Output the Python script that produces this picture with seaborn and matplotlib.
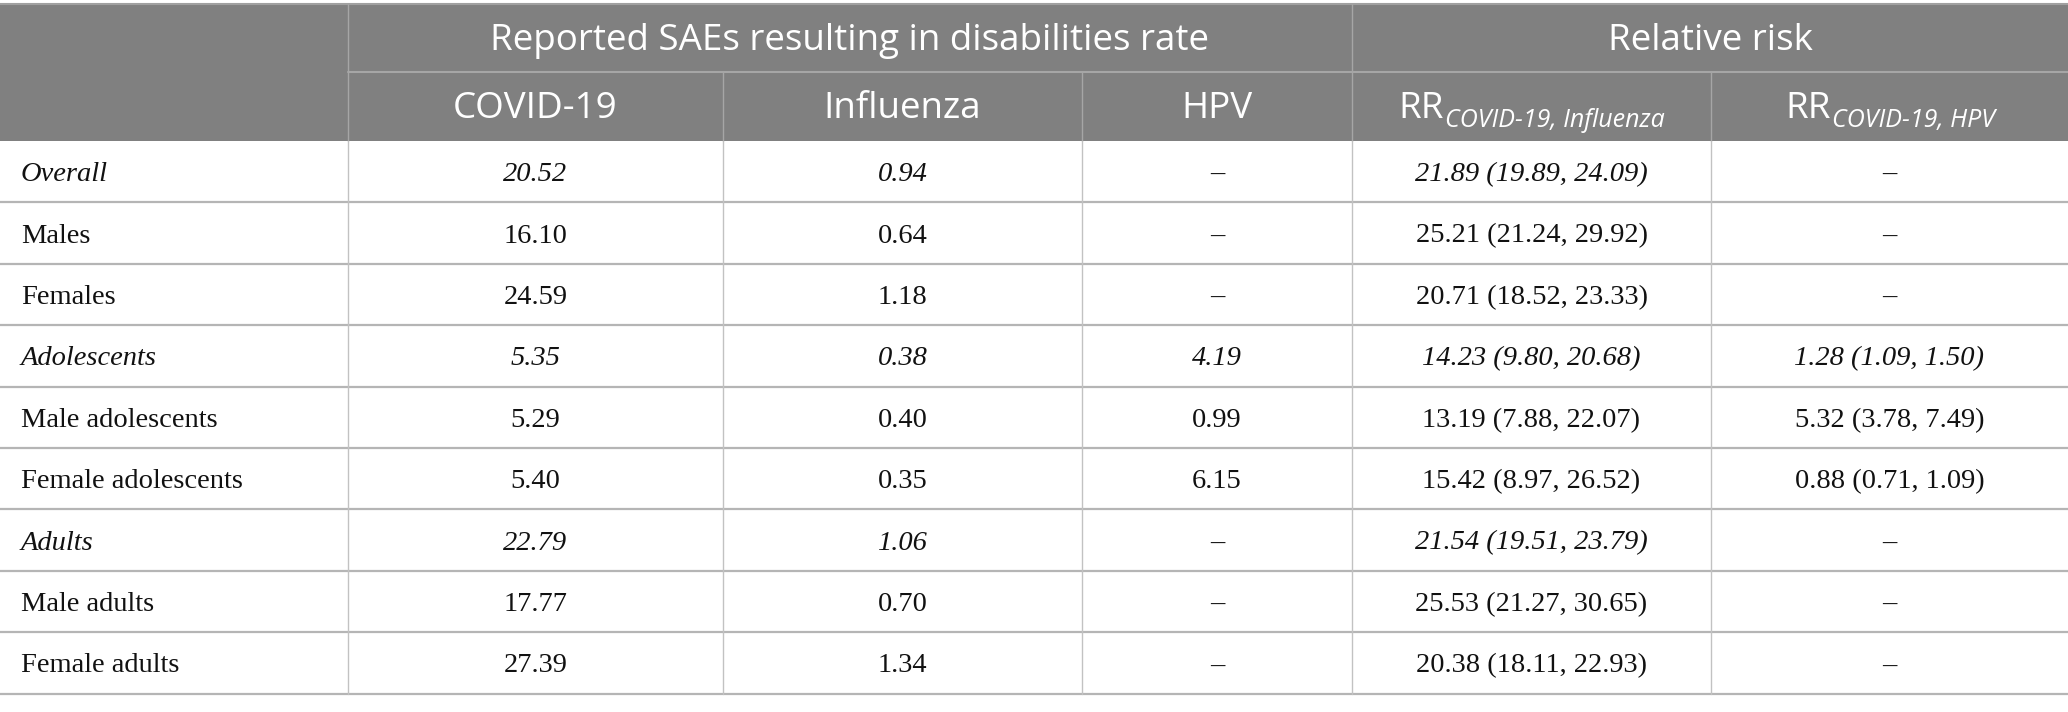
import matplotlib
matplotlib.use("Agg")
import matplotlib.pyplot as plt
from matplotlib.patches import Rectangle
import seaborn as sns

# table content
groups = ["Overall", "Males", "Females", "Adolescents", "Male adolescents",
          "Female adolescents", "Adults", "Male adults", "Female adults"]
italic_groups = ["Overall", "Adolescents", "Adults"]
covid_rate = [20.52, 16.10, 24.59, 5.35, 5.29, 5.40, 22.79, 17.77, 27.39]
flu_rate = [0.94, 0.64, 1.18, 0.38, 0.40, 0.35, 1.06, 0.70, 1.34]
hpv_rate = [None, None, None, 4.19, 0.99, 6.15, None, None, None]
rr_flu = [(21.89, 19.89, 24.09), (25.21, 21.24, 29.92), (20.71, 18.52, 23.33),
          (14.23, 9.80, 20.68), (13.19, 7.88, 22.07), (15.42, 8.97, 26.52),
          (21.54, 19.51, 23.79), (25.53, 21.27, 30.65), (20.38, 18.11, 22.93)]
rr_hpv = [None, None, None, (1.28, 1.09, 1.50), (5.32, 3.78, 7.49),
          (0.88, 0.71, 1.09), None, None, None]
group_headers = ["Reported SAEs resulting in disabilities rate", "Relative risk"]
col_headers = ["COVID-19", "Influenza", "HPV", ("RR", "COVID-19, Influenza"), ("RR", "COVID-19, HPV")]

sns.set_theme(style="white")
plt.rcParams["font.family"] = ["Open Sans", "DejaVu Sans"]

# layout in pixels
W, H = 2068, 712
col_x = [0, 348, 723, 1082, 1352, 1711, 2068]
head_top, head_mid, head_bot = 4, 72, 141
row_h = 61.4
HEAD_BG = "#808080"
LINE = "#c2c2c2"


def fmt(v):
    return "\u2013" if v is None else f"{v:.2f}"


def fmt_rr(t):
    return "\u2013" if t is None else f"{t[0]:.2f} ({t[1]:.2f}, {t[2]:.2f})"


fig = plt.figure(figsize=(W / 100, H / 100), dpi=100)
ax = fig.add_axes([0, 0, 1, 1])
ax.set_xlim(0, W)
ax.set_ylim(H, 0)
ax.axis("off")

# header background
ax.add_patch(Rectangle((0, head_top), W, head_bot - head_top, color=HEAD_BG, lw=0))
ax.plot([0, W], [head_top, head_top], color="#a0a0a0", lw=1.5)
ax.plot([col_x[1], W], [head_mid, head_mid], color="#a6a6a6", lw=1.5)
for i, x in enumerate(col_x[1:-1], start=1):
    y0 = head_top if i in (1, 4) else head_mid
    ax.plot([x, x], [y0, head_bot], color="#a6a6a6", lw=1)

# header text
hfs = 26.5
hw = "normal"
ax.text((col_x[1] + col_x[4]) / 2, (head_top + head_mid) / 2 + 3, group_headers[0],
        color="white", fontsize=hfs, ha="center", va="center", fontweight=hw)
ax.text((col_x[4] + col_x[6]) / 2, (head_top + head_mid) / 2 + 3, group_headers[1],
        color="white", fontsize=hfs, ha="center", va="center", fontweight=hw)

renderer = fig.canvas.get_renderer()
yc2 = (head_mid + head_bot) / 2 + 3
for j, h in enumerate(col_headers):
    cx = (col_x[j + 1] + col_x[j + 2]) / 2
    if isinstance(h, str):
        ax.text(cx, yc2, h, color="white", fontsize=hfs, ha="center", va="center",
                fontweight=hw)
    else:
        t1 = ax.text(0, yc2, h[0], color="white", fontsize=hfs, ha="left", va="center",
                     fontweight=hw)
        t2 = ax.text(0, yc2 + 11, h[1], color="white", fontsize=hfs * 0.68,
                     style="italic", ha="left", va="center", fontweight=hw)
        w1 = t1.get_window_extent(renderer).width
        w2 = t2.get_window_extent(renderer).width
        x0 = cx - (w1 + w2) / 2
        t1.set_x(x0)
        t2.set_x(x0 + w1 + 1)

# body
bfs = 20.5
serif = ["Liberation Serif", "DejaVu Serif"]
for i, g in enumerate(groups):
    top = head_bot + i * row_h
    yc = top + row_h / 2 + 3
    st = "italic" if g in italic_groups else "normal"
    cells = [fmt(covid_rate[i]), fmt(flu_rate[i]), fmt(hpv_rate[i]),
             fmt_rr(rr_flu[i]), fmt_rr(rr_hpv[i])]
    ax.text(21, yc, g, fontsize=bfs, family=serif, style=st, ha="left", va="center", color="#111111")
    for j, c in enumerate(cells):
        cx = (col_x[j + 1] + col_x[j + 2]) / 2
        ax.text(cx, yc, c, fontsize=bfs, family=serif, style=st, ha="center", va="center", color="#111111")
    ax.plot([0, W], [top + row_h, top + row_h], color="#b5b5b5", lw=1.6)
    for x in col_x[1:-1]:
        ax.plot([x, x], [top, top + row_h], color=LINE, lw=1)

fig.savefig("out.png", dpi=100)
